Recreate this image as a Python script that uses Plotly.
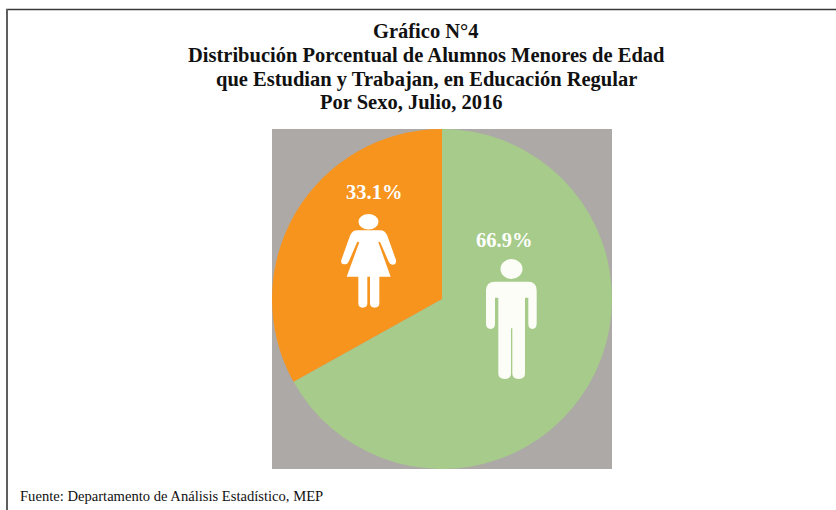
import plotly.graph_objects as go

W, H = 836, 510
categories = ["Hombres", "Mujeres"]
values = [66.9, 33.1]
colors = ["#A6CB8A", "#F7941E"]
value_labels = ["66.9%", "33.1%"]
title_lines = ["Gráfico N°4", "Distribución Porcentual de Alumnos Menores de Edad",
               "que Estudian y Trabajan, en Educación Regular", "Por Sexo, Julio, 2016"]
source = "Fuente: Departamento de Análisis Estadístico, MEP"
SERIF = "Liberation Serif"


def fx(x):
    return x / W


def fy(y):
    return 1 - y / H


def path(cmds):
    # cmds are in 3x-zoom crop pixels with origin at (270,125)
    out, is_x = [], True
    for tok in cmds.split():
        if tok.isalpha():
            out.append(tok)
            is_x = True
        else:
            v = float(tok) / 3
            out.append(f"{fx(v + 270):.5f}" if is_x else f"{fy(v + 125):.5f}")
            is_x = not is_x
    return " ".join(out)


MAN = ("M 675 470 L 775 470 Q 800 470 800 497 L 800 595 Q 800 612 787 612 Q 775 612 775 595 L 775 518 "
       "L 765 518 L 765 745 Q 765 762 746 762 Q 727 762 727 745 L 727 610 L 723 610 L 723 745 "
       "Q 723 762 704 762 Q 685 762 685 745 L 685 518 L 675 518 L 675 595 Q 675 612 662 612 "
       "Q 648 612 648 595 L 648 497 Q 648 470 675 470 Z")
WOMAN = ("M 262 316 L 330 316 Q 345 316 352 332 L 378 405 Q 380 418 368 419 Q 360 419 356 410 L 330 350 "
         "L 325 352 L 362 455 L 328 455 L 328 535 Q 328 548 314 548 Q 300 548 300 535 L 300 455 L 292 455 "
         "L 292 535 Q 292 548 278 548 Q 265 548 265 535 L 265 455 L 230 455 L 268 352 L 262 350 L 236 410 "
         "Q 232 419 222 418 Q 211 416 214 405 L 240 332 Q 247 316 262 316 Z")

fig = go.Figure(go.Pie(
    labels=categories, values=values, sort=False, direction="clockwise", rotation=0,
    marker=dict(colors=colors, line=dict(width=0)), textinfo="none", hoverinfo="label+percent",
    showlegend=False,
    domain=dict(x=[fx(272), fx(612)], y=[fy(469), fy(129)]),
))

shapes = [
    dict(type="rect", xref="paper", yref="paper", x0=fx(272), x1=fx(612), y0=fy(469), y1=fy(129),
         fillcolor="#ADA9A6", line=dict(width=0), layer="below"),
]
shapes += [
    # frame
    dict(type="line", xref="paper", yref="paper", x0=fx(6), x1=1, y0=fy(9.5), y1=fy(9.5),
         line=dict(color="#3a3a3a", width=1.5), layer="above"),
    dict(type="line", xref="paper", yref="paper", x0=fx(7), x1=fx(7), y0=fy(9), y1=0,
         line=dict(color="#5f5f5f", width=2), layer="above"),
    # figures
    dict(type="path", xref="paper", yref="paper", path=path(MAN), fillcolor="#FDFDF8",
         line=dict(width=0), layer="above"),
    dict(type="path", xref="paper", yref="paper", path=path(WOMAN), fillcolor="#FFFFFF",
         line=dict(width=0), layer="above"),
    dict(type="circle", xref="paper", yref="paper", x0=fx(500.5), x1=fx(522.5), y0=fy(279), y1=fy(259),
         fillcolor="#FDFDF8", line=dict(width=0), layer="above"),
    dict(type="circle", xref="paper", yref="paper", x0=fx(358.5), x1=fx(378.5), y0=fy(229.5), y1=fy(214),
         fillcolor="#FFFFFF", line=dict(width=0), layer="above"),
]

ann = []
for txt, cx, cy in zip(title_lines, [426, 426, 426, 411], [31, 55, 79, 102]):
    ann.append(dict(text=f"<b>{txt}</b>", x=fx(cx), y=fy(cy), xref="paper", yref="paper", showarrow=False,
                    xanchor="center", yanchor="middle", font=dict(family=SERIF, size=20.5, color="#111111")))
for txt, cx, cy in zip(value_labels, [504, 374], [239.5, 191.5]):
    ann.append(dict(text=f"<b>{txt}</b>", x=fx(cx), y=fy(cy), xref="paper", yref="paper", showarrow=False,
                    xanchor="center", yanchor="middle", font=dict(family=SERIF, size=20.5, color="#FFFFFF")))
ann.append(dict(text=source, x=fx(18), y=fy(496), xref="paper", yref="paper", showarrow=False,
                xanchor="left", yanchor="middle", font=dict(family=SERIF, size=14.6, color="#111111")))

fig.update_layout(width=W, height=H, margin=dict(l=0, r=0, t=0, b=0), paper_bgcolor="#FFFFFF",
                  shapes=shapes, annotations=ann)
fig.write_html("out.html", config={"displayModeBar": False},
               post_script="document.body.style.margin='0';document.documentElement.style.overflow='hidden';")
